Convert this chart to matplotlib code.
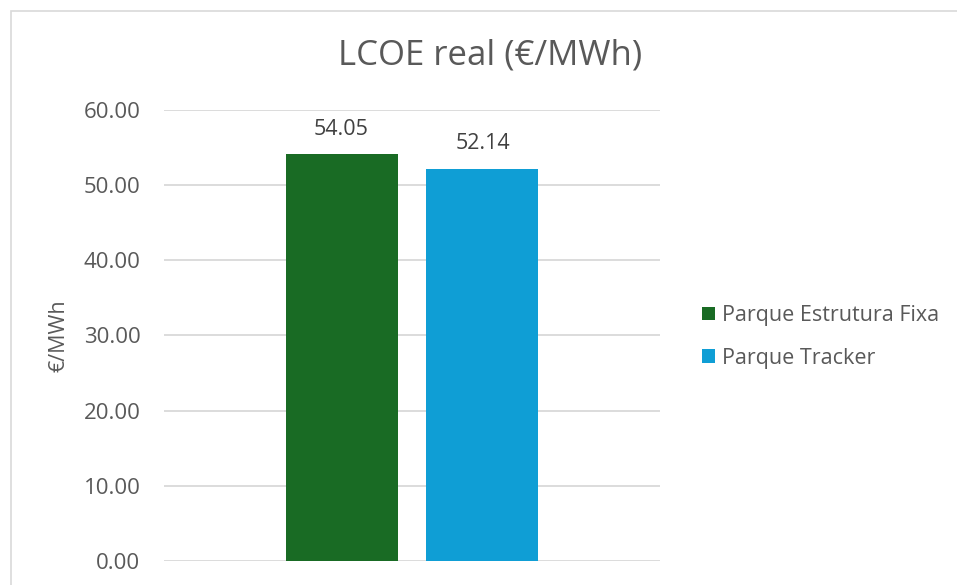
import matplotlib
matplotlib.use("Agg")
import matplotlib.pyplot as plt
from matplotlib.patches import Patch, Rectangle

series = ["Parque Estrutura Fixa", "Parque Tracker"]
values = [54.05, 52.14]
colors = ["#196B24", "#0F9ED5"]
yticks = [0, 10, 20, 30, 40, 50, 60]

plt.rcParams["font.family"] = ["Open Sans", "DejaVu Sans"]
TXT = "#595959"

W, H = 957, 585
fig = plt.figure(figsize=(W / 100, H / 100), dpi=100)
ax = fig.add_axes([164 / W, 1 - 561.3 / H, 496 / W, (561.3 - 109.5) / H])

# chart border (cropped on the right/bottom like the original)
fig.patches.append(Rectangle((10.5 / W, -0.1), 2, 1 - 11 / H + 0.1,
                             transform=fig.transFigure, fill=False,
                             edgecolor="#D9D9D9", lw=1.2))

offsets = [-0.1421, 0.1421]
width = 0.2258
for off, v, c in zip(offsets, values, colors):
    ax.bar(off, v, width=width, color=c, zorder=3)
    ax.text(off, v + 1.9, f"{v:.2f}", ha="center", va="bottom",
            fontsize=15.5, color="#404040")

ax.set_xlim(-0.5, 0.5)
ax.set_ylim(0, 60)
ax.set_yticks(yticks)
ax.set_yticklabels([f"{t:.2f}" for t in yticks], fontsize=16, color=TXT)
ax.set_xticks([])
ax.tick_params(axis="y", length=0, pad=17)
ax.grid(axis="y", color="#D9D9D9", lw=1.3, zorder=0)
for s in ax.spines.values():
    s.set_visible(False)
ax.set_ylabel("€/MWh", fontsize=15.5, color=TXT)
ax.yaxis.set_label_coords(-0.19, 0.5)

fig.text(490 / W, 1 - 55 / H, "LCOE real (€/MWh)", ha="center", va="center",
         fontsize=25, color=TXT)

handles = [Patch(facecolor=c, label=s) for s, c in zip(series, colors)]
fig.legend(handles=handles, loc="center left",
           bbox_to_anchor=(683 / W, 1 - 337 / H), frameon=False,
           fontsize=15.5, labelcolor=TXT, handlelength=0.6, handleheight=0.6,
           handletextpad=0.3, labelspacing=1.0)

fig.savefig("out.png", dpi=100)
